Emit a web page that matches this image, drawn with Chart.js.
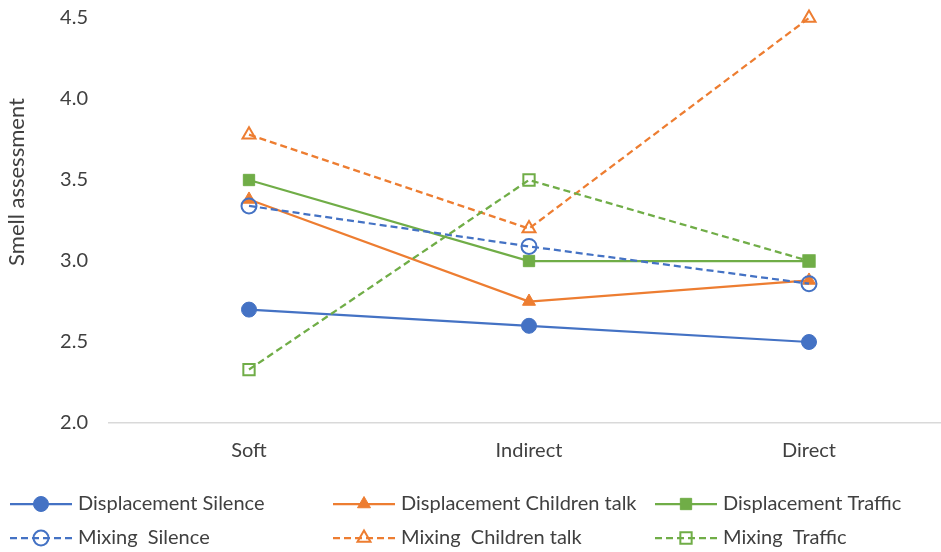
<!DOCTYPE html>
<html>
<head>
<meta charset="utf-8">
<script src="https://cdn.jsdelivr.net/npm/chart.js@4"></script>
<style>
  html, body { margin: 0; padding: 0; background: #fff; overflow: hidden; }
  #wrap { width: 959px; height: 552px; }
</style>
</head>
<body>
<div id="wrap"><canvas id="myChart" width="959" height="552"></canvas></div>
<script>
'use strict';

/* Chart data */
const categories = ['Soft', 'Indirect', 'Direct'];
const seriesNames = [
    'Displacement Silence',
    'Displacement Children talk',
    'Displacement Traffic',
    'Mixing  Silence',
    'Mixing  Children talk',
    'Mixing  Traffic'
];
const dispSilence = [2.70, 2.60, 2.50];
const dispChildren = [3.38, 2.75, 2.88];
const dispTraffic = [3.50, 3.00, 3.00];
const mixSilence = [3.34, 3.09, 2.86];
const mixChildren = [3.78, 3.20, 4.50];
const mixTraffic = [2.33, 3.50, 3.00];
const yTicks = [2.0, 2.5, 3.0, 3.5, 4.0, 4.5];

const BLUE = '#4472C4';
const ORANGE = '#ED7D31';
const GREEN = '#70AD47';
const FONT = 'Lato, "Open Sans", sans-serif';
const TEXT = '#404040';

function series(label, values, color, style, dashed) {
    return {
        label: label,
        data: values,
        borderColor: color,
        backgroundColor: dashed ? 'rgba(0,0,0,0)' : color,
        // open markers are see-through, like Excel's "no fill"
        pointBackgroundColor: dashed ? 'rgba(0,0,0,0)' : color,
        pointBorderColor: color,
        pointBorderWidth: dashed ? 2 : 1,
        pointStyle: style,
        pointRadius: style === 'rect' ? 8 : 7.5,
        pointHoverRadius: 7,
        borderWidth: 2.25,
        borderDash: dashed ? [7, 4] : [],
        tension: 0,
        clip: false
    };
}

const datasets = [
    series(seriesNames[0], dispSilence, BLUE, 'circle', false),
    series(seriesNames[1], dispChildren, ORANGE, 'triangle', false),
    series(seriesNames[2], dispTraffic, GREEN, 'rect', false),
    series(seriesNames[3], mixSilence, BLUE, 'circle', true),
    series(seriesNames[4], mixChildren, ORANGE, 'triangle', true),
    series(seriesNames[5], mixTraffic, GREEN, 'rect', true)
];
// later series drawn on top
datasets.forEach((d, i) => { d.order = datasets.length - i; });

/* y title + legend drawn by hand (Excel style legend: line through marker) */
const extras = {
    id: 'extras',
    afterDraw(chart) {
        const ctx = chart.ctx;
        ctx.save();
        // axis title
        ctx.translate(17, 182);
        ctx.rotate(-Math.PI / 2);
        ctx.fillStyle = TEXT;
        ctx.font = '22px ' + FONT;
        ctx.textAlign = 'center';
        ctx.textBaseline = 'middle';
        ctx.fillText('Smell assessment', 0, 0);
        ctx.restore();

        const cols = [10, 333, 655];
        const rows = [504, 538];
        chart.data.datasets.forEach((ds, i) => {
            const x = cols[i % 3];
            const y = rows[Math.floor(i / 3)];
            ctx.save();
            ctx.strokeStyle = ds.borderColor;
            ctx.lineWidth = 2.25;
            ctx.setLineDash(ds.borderDash);
            ctx.beginPath();
            ctx.moveTo(x, y);
            ctx.lineTo(x + 62, y);
            ctx.stroke();
            ctx.setLineDash([]);
            ctx.fillStyle = ds.pointBackgroundColor;
            ctx.strokeStyle = ds.pointBorderColor;
            ctx.lineWidth = ds.pointBorderWidth;
            Chart.helpers.drawPoint(ctx, {
                pointStyle: ds.pointStyle,
                radius: ds.pointRadius,
                rotation: 0,
                borderWidth: ds.pointBorderWidth
            }, x + 31, y);
            ctx.fillStyle = TEXT;
            ctx.font = '20px ' + FONT;
            ctx.textAlign = 'left';
            ctx.textBaseline = 'middle';
            ctx.fillText(ds.label, x + 68, y);
            ctx.restore();
        });
    }
};

const config = {
    type: 'line',
    data: {
        labels: categories,
        datasets: datasets
    },
    options: {
        responsive: false,
        animation: false,
        devicePixelRatio: 1,
        layout: {
            padding: { top: 18, right: 1, bottom: 89, left: 0 }
        },
        plugins: {
            legend: { display: false },
            tooltip: { enabled: false }
        },
        scales: {
            x: {
                offset: true,
                grid: { display: false, drawTicks: false },
                border: { display: true, color: '#d9d9d9', width: 1.5 },
                ticks: {
                    color: TEXT,
                    font: { family: FONT, size: 20 },
                    padding: 16
                },
                afterFit(scale) { scale.height = 40; }
            },
            y: {
                min: 2.0,
                max: 4.5,
                grid: { display: false, drawTicks: false },
                border: { display: false },
                afterBuildTicks(scale) {
                    scale.ticks = yTicks.map(v => ({ value: v }));
                },
                ticks: {
                    color: TEXT,
                    font: { family: FONT, size: 20 },
                    padding: 21,
                    callback: v => Number(v).toFixed(1)
                },
                afterFit(scale) {
                    scale.width = 109;
                    // tick padding would otherwise be added above the plot
                    scale.paddingTop = 0;
                    scale.paddingBottom = 0;
                }
            }
        }
    },
    plugins: [extras]
};

var myChart = new Chart(document.getElementById('myChart'), config);
</script>
</body>
</html>
